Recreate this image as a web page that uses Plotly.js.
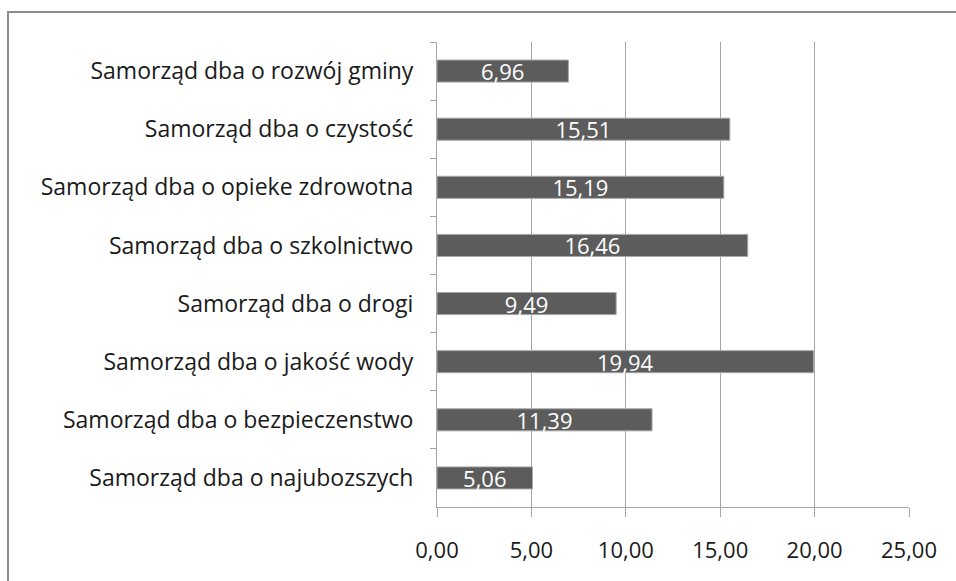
<!DOCTYPE html>
<html>
<head>
<meta charset="utf-8">
<script src="https://cdn.plot.ly/plotly-3.0.1.min.js"></script>
<style>
  html, body { margin: 0; padding: 0; background: #fff; overflow: hidden; }
  #chart { width: 956px; height: 581px; position: absolute; left: 0; top: 0; }
  #frame { position: absolute; left: 7px; top: 11px; width: 1100px; height: 800px;
           border: 2px solid #8c8c8c; pointer-events: none; box-sizing: border-box; }
</style>
</head>
<body>
<div id="chart"></div>
<div id="frame"></div>
<script>
const categories = [
  "Samorząd dba o rozwój gminy",
  "Samorząd dba o czystość",
  "Samorząd dba o opieke zdrowotna",
  "Samorząd dba o szkolnictwo",
  "Samorząd dba o drogi",
  "Samorząd dba o jakość wody",
  "Samorząd dba o bezpieczenstwo",
  "Samorząd dba o najubozszych"
];
const values = [6.96, 15.51, 15.19, 16.46, 9.49, 19.94, 11.39, 5.06];
const xTicks = [0, 5, 10, 15, 20, 25];

const FONT = "'Open Sans', 'Noto Sans', sans-serif";

const trace = {
  type: 'bar',
  orientation: 'h',
  x: values,
  y: categories,
  marker: { color: '#5c5c5c', line: { color: '#a8a8a8', width: 1 } },
  texttemplate: '%{x:.2f}',
  textposition: 'inside',
  insidetextanchor: 'middle',
  constraintext: 'none',
  insidetextfont: { family: FONT, size: 22, color: '#ffffff' },
  hoverinfo: 'none'
};

const layout = {
  width: 956,
  height: 581,
  margin: { l: 437, r: 47, t: 42, b: 74, pad: 0 },
  paper_bgcolor: '#ffffff',
  plot_bgcolor: '#ffffff',
  separators: ',.',
  showlegend: false,
  bargap: 0.62,
  font: { family: FONT, size: 22, color: '#1a1a1a' },
  xaxis: {
    range: [0, 25],
    tickvals: xTicks,
    tickformat: '.2f',
    showgrid: true,
    gridcolor: '#a6a6a6',
    gridwidth: 1,
    zeroline: false,
    showline: true,
    linecolor: '#a6a6a6',
    linewidth: 1,
    ticks: 'outside',
    ticklen: 9,
    tickcolor: '#a6a6a6',
    ticklabelstandoff: 15,
    tickfont: { family: FONT, size: 22, color: '#1a1a1a' },
    fixedrange: true
  },
  yaxis: {
    type: 'category',
    autorange: 'reversed',
    showgrid: false,
    zeroline: false,
    showline: true,
    linecolor: '#a6a6a6',
    linewidth: 1,
    ticks: 'outside',
    tickson: 'boundaries',
    ticklen: 6,
    tickcolor: '#a6a6a6',
    ticklabelstandoff: 18,
    tickfont: { family: FONT, size: 23, color: '#1a1a1a' },
    fixedrange: true
  }
};

Plotly.newPlot('chart', [trace], layout, { displayModeBar: false, staticPlot: true });
</script>
</body>
</html>
